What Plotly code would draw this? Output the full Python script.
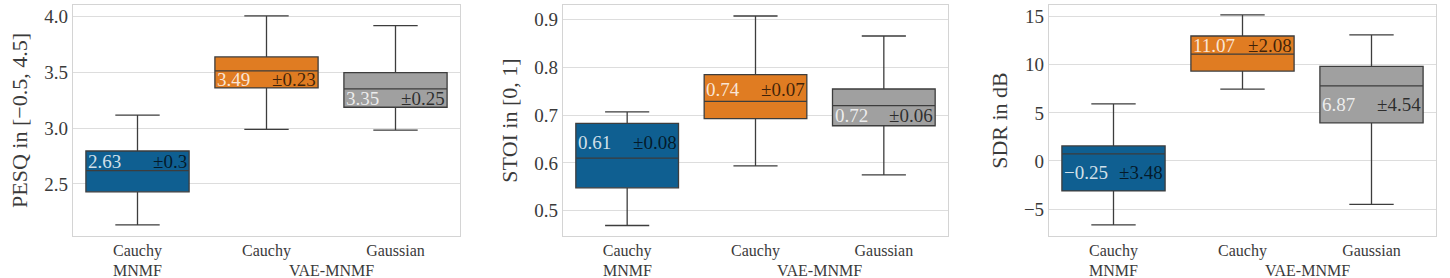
import plotly.graph_objects as go
from plotly.subplots import make_subplots

# ---- data ----
categories = ["Cauchy", "Cauchy", "Gaussian"]
groups = ["MNMF", "VAE-MNMF"]
colors = ["#0f5f91", "#e07c22", "#a0a0a0"]

metric_titles = ["PESQ in [−0.5, 4.5]", "STOI in [0, 1]", "SDR in dB"]

pesq_lo = [2.134, 2.988, 2.982]
pesq_q1 = [2.43, 3.359, 3.186]
pesq_med = [2.62, 3.511, 3.35]
pesq_q3 = [2.795, 3.636, 3.496]
pesq_hi = [3.116, 4.002, 3.916]
pesq_mean = ["2.63", "3.49", "3.35"]
pesq_std = ["±0.3", "±0.23", "±0.25"]
pesq_label_y = [2.705, 3.433, 3.264]

stoi_lo = [0.469, 0.594, 0.575]
stoi_q1 = [0.548, 0.693, 0.678]
stoi_med = [0.61, 0.729, 0.72]
stoi_q3 = [0.683, 0.785, 0.755]
stoi_hi = [0.707, 0.908, 0.866]
stoi_mean = ["0.61", "0.74", "0.72"]
stoi_std = ["±0.08", "±0.07", "±0.06"]
stoi_label_y = [0.643, 0.755, 0.699]

sdr_lo = [-6.65, 7.47, -4.51]
sdr_q1 = [-3.12, 9.34, 3.96]
sdr_med = [0.73, 11.1, 7.8]
sdr_q3 = [1.56, 12.99, 9.83]
sdr_hi = [5.93, 15.18, 13.1]
sdr_mean = ["−0.25", "11.07", "6.87"]
sdr_std = ["±3.48", "±2.08", "±4.54"]
sdr_label_y = [-1.21, 12.0, 5.9]

y_ranges = [[2.035, 4.10], [0.447, 0.931], [-7.8, 16.21]]
y_ticks = [[2.5, 3.0, 3.5, 4.0], [0.5, 0.6, 0.7, 0.8, 0.9], [-5, 0, 5, 10, 15]]
y_fmt = [".1f", ".1f", "d"]

metrics = [
    (pesq_lo, pesq_q1, pesq_med, pesq_q3, pesq_hi, pesq_mean, pesq_std, pesq_label_y),
    (stoi_lo, stoi_q1, stoi_med, stoi_q3, stoi_hi, stoi_mean, stoi_std, stoi_label_y),
    (sdr_lo, sdr_q1, sdr_med, sdr_q3, sdr_hi, sdr_mean, sdr_std, sdr_label_y),
]

FONT = "Liberation Serif"
TXT = "#3a3a3a"
W, H = 1450, 278

fig = make_subplots(rows=1, cols=3)

x_domains = [[73 / W, 460 / W], [563 / W, 948 / W], [1049 / W, 1436 / W]]
y_domain = [1 - 236 / H, 1 - 5 / H]

annotations = []
for k, (lo, q1, med, q3, hi, mean, std, ly) in enumerate(metrics):
    col = k + 1
    xr = "x" if k == 0 else f"x{k+1}"
    yr = "y" if k == 0 else f"y{k+1}"
    for i in range(3):
        fig.add_trace(
            go.Box(
                x=[i], q1=[q1[i]], median=[med[i]], q3=[q3[i]],
                lowerfence=[lo[i]], upperfence=[hi[i]],
                width=0.8, whiskerwidth=0.43,
                fillcolor=colors[i],
                line=dict(color="#3d3d3d", width=1.3),
                boxpoints=False, showlegend=False, hoverinfo="skip",
            ),
            row=1, col=col,
        )
        annotations.append(dict(
            x=i - 0.4, y=ly[i], xref=xr, yref=yr, text=mean[i],
            xanchor="left", yanchor="middle", showarrow=False,
            font=dict(family=FONT, size=19, color="rgba(255,255,255,0.82)"),
        ))
        annotations.append(dict(
            x=i + 0.4, y=ly[i], xref=xr, yref=yr, text=std[i],
            xanchor="right", yanchor="middle", showarrow=False,
            font=dict(family=FONT, size=19, color="rgba(0,0,0,0.72)"),
        ))
    annotations.append(dict(
        x=0, y=1 - 270 / H, xref=xr, yref="paper", text=groups[0],
        xanchor="center", yanchor="middle", showarrow=False,
        font=dict(family=FONT, size=16, color=TXT),
    ))
    annotations.append(dict(
        x=1.5, y=1 - 270 / H, xref=xr, yref="paper", text=groups[1],
        xanchor="center", yanchor="middle", showarrow=False,
        font=dict(family=FONT, size=16, color=TXT),
    ))

    fig.update_xaxes(
        domain=x_domains[k], range=[-0.5, 2.5], tickvals=[0, 1, 2], ticktext=categories,
        showgrid=False, zeroline=False, showline=True, mirror=True, linecolor="#d4d4d4",
        linewidth=1.2, ticks="", ticklabelstandoff=0,
        tickfont=dict(family=FONT, size=16, color=TXT),
        row=1, col=col,
    )
    fig.update_yaxes(
        domain=y_domain, range=y_ranges[k], tickvals=y_ticks[k], tickformat=y_fmt[k],
        showgrid=True, gridcolor="#dddddd", gridwidth=1.2, zeroline=False,
        showline=True, mirror=True, linecolor="#d4d4d4", linewidth=1.2, ticks="",
        tickfont=dict(family=FONT, size=19, color=TXT),
        title=dict(text=metric_titles[k], font=dict(family=FONT, size=22, color=TXT), standoff=10),
        row=1, col=col,
    )

fig.update_layout(
    width=W, height=H, margin=dict(l=0, r=0, t=0, b=0),
    plot_bgcolor="white", paper_bgcolor="white",
    annotations=annotations, showlegend=False,
)

fig.write_html("out.html")
